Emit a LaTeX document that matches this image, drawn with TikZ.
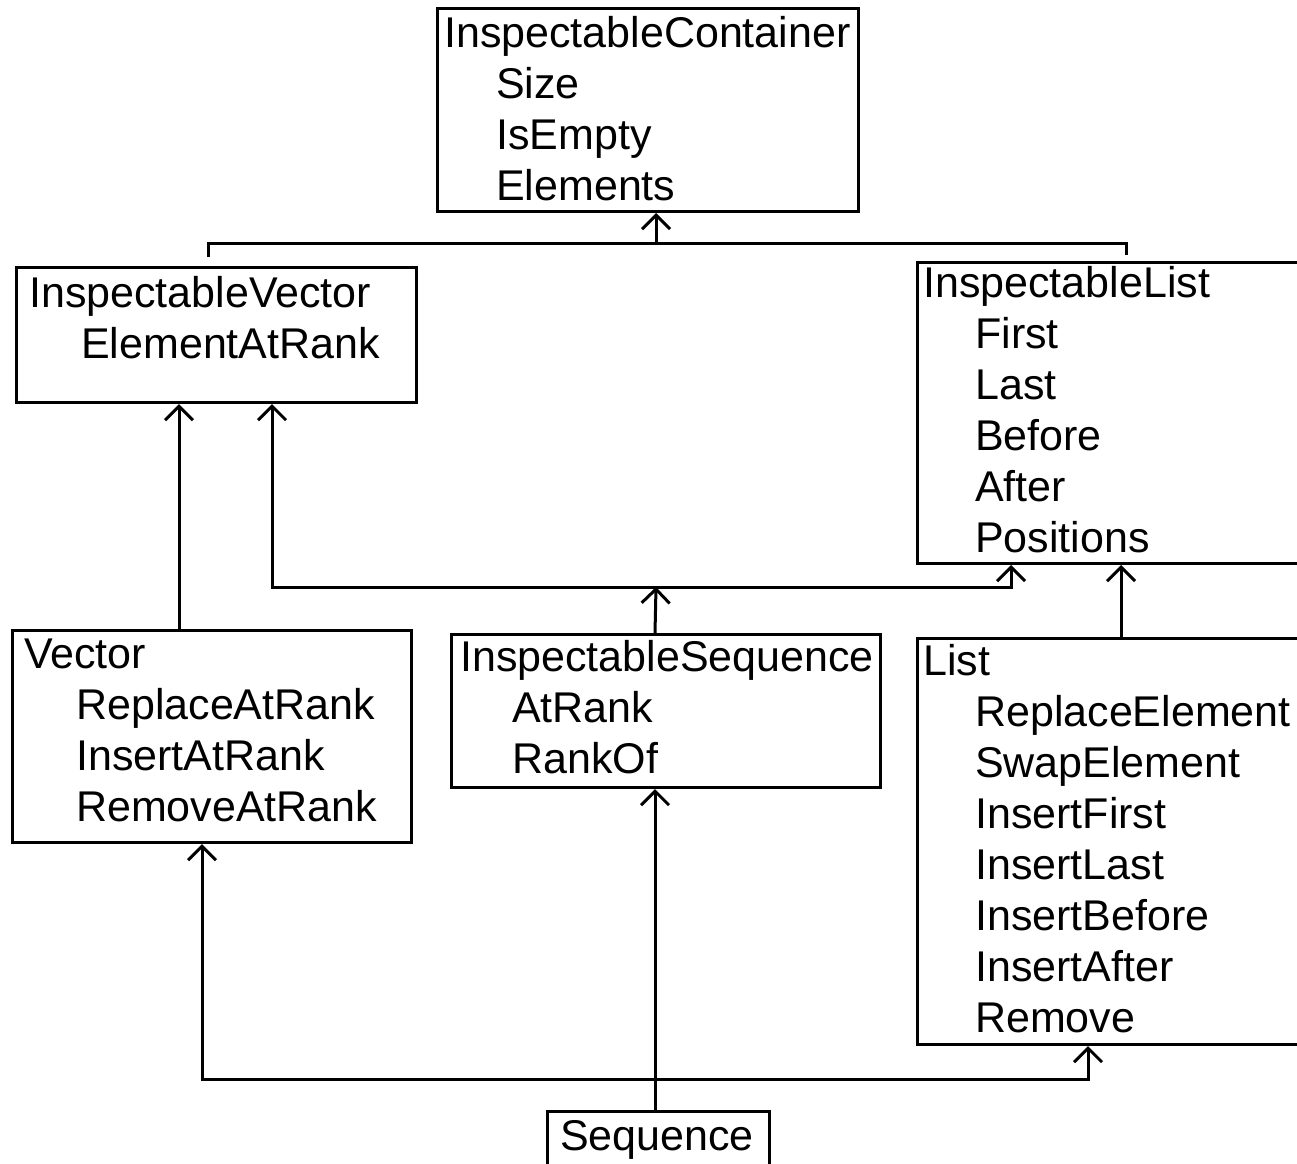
\documentclass[tikz,border=0pt]{standalone}
\usepackage{fontspec}
\setmainfont{Liberation Sans}
\usetikzlibrary{arrows.meta}
\newcommand\mylines[1]{\vtop{\baselineskip=51pt\lineskip=0pt\lineskiplimit=-100pt #1}}
\newcommand\mem[1]{\hbox{\hskip52pt #1}}
\tikzset{
  umlbox/.style={draw, line width=3pt, inner sep=0pt, anchor=north west},
  txt/.style={inner sep=0pt, anchor=base west, font=\fontsize{43pt}{51pt}\selectfont},
  conn/.style={line width=3pt},
  arr/.style={line width=3pt, -{Straight Barb[length=14pt,width=28pt]}}
}
\begin{document}
\begin{tikzpicture}[x=1pt,y=-1pt]
\useasboundingbox (0,0) rectangle (1297,1163);
\clip (0,0) rectangle (1297,1163);
\fill[white] (0,0) rectangle (1297,1163);
% boxes
\node[umlbox, minimum width=421pt, minimum height=203pt] (ic) at (436,7) {};
\node[umlbox, minimum width=400pt, minimum height=135pt] (iv) at (15,266) {};
\node[umlbox, minimum width=420pt, minimum height=301pt] (il) at (916,261) {};
\node[umlbox, minimum width=399pt, minimum height=212pt] (vec) at (11,629) {};
\node[umlbox, minimum width=429pt, minimum height=153pt] (is) at (450,633) {};
\node[umlbox, minimum width=420pt, minimum height=406pt] (li) at (916,637) {};
\node[umlbox, minimum width=222pt, minimum height=80pt] (seq) at (546,1110) {};
% texts
\node[txt] (ict) at (444,47) {\mylines{\hbox{InspectableContainer}\mem{Size}\mem{IsEmpty}\mem{Elements}}};
\node[txt] (ivt) at (29,307) {\mylines{\hbox{InspectableVector}\mem{ElementAtRank}}};
\node[txt] (ilt) at (923,297) {\mylines{\hbox{InspectableList}\mem{First}\mem{Last}\mem{Before}\mem{After}\mem{Positions}}};
\node[txt] (vect) at (24,668) {\mylines{\hbox{Vector}\mem{ReplaceAtRank}\mem{InsertAtRank}\mem{RemoveAtRank}}};
\node[txt] (ist) at (460,671) {\mylines{\hbox{InspectableSequence}\mem{AtRank}\mem{RankOf}}};
\node[txt] (lit) at (923,675) {\mylines{\hbox{List}\mem{ReplaceElement}\mem{SwapElement}\mem{InsertFirst}\mem{InsertLast}\mem{InsertBefore}\mem{InsertAfter}\mem{Remove}}};
\node[txt] (seqt) at (560,1150) {Sequence};
% helper coordinates
\coordinate (j1) at (656,243);
\coordinate (j1a) at (208,257);
\coordinate (j1b) at (1126,255);
\coordinate (j2) at (656,587);
\coordinate (x179) at (179,0);
\coordinate (x272) at (272,0);
\coordinate (x1011) at (1011,0);
\coordinate (x1121) at (1121,0);
\coordinate (x202) at (202,0);
\coordinate (x1088) at (1088,0);
\coordinate (x655) at (655,0);
\coordinate (j3) at (655,1079);
% connectors
\draw[conn] (j1a) |- (j1) -| (j1b);
\draw[arr] (j1) -- (j1 |- ic.south);
\draw[arr] (x179 |- vec.north) -- (x179 |- iv.south);
\draw[arr] (x655 |- is.north) -- (j2);
\draw[arr] (j2) -| (x272 |- iv.south);
\draw[arr] (j2) -| (x1011 |- il.south);
\draw[arr] (x1121 |- li.north) -- (x1121 |- il.south);
\draw[arr] (x655 |- seq.north) -- (x655 |- is.south);
\draw[arr] (j3) -| (x202 |- vec.south);
\draw[arr] (j3) -| (x1088 |- li.south);
\end{tikzpicture}
\end{document}
